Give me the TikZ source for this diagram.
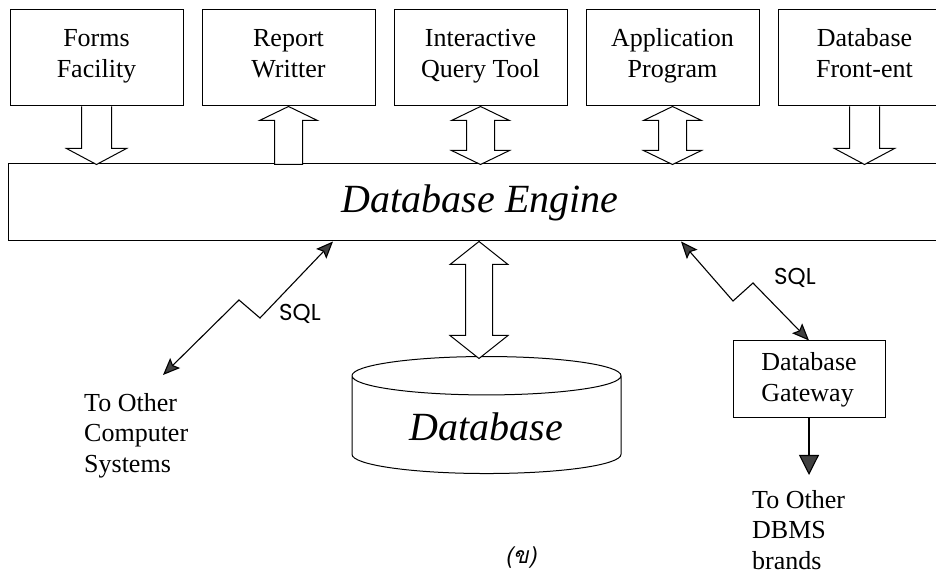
\documentclass[tikz,border=0pt]{standalone}
\usepackage{fontspec}
\setmainfont{Liberation Serif}
\newfontfamily\sqlfont{Poppins}
\newfontfamily\thaifont[Script=Thai, FakeSlant=0.2]{Loma}
\usepackage{tikz}
\usetikzlibrary{positioning, arrows.meta, shapes.geometric}
\tikzset{
  tool/.style={
    rectangle,
    draw,
    line width=1pt,
    minimum width=173pt,
    minimum height=96pt,
    text depth=10pt,
    font=\fontsize{26}{31}\selectfont,
    align=center
  },
  hollow/.style={draw, line width=1pt, fill=white, line join=miter},
  sqlarrow/.style={line width=1.1pt,
    {Stealth[length=17pt, width=14pt, inset=3pt, fill=black!75]}-{Stealth[length=17pt, width=14pt, inset=3pt, fill=black!75]}},
  sqltag/.style={font=\sqlfont\fontsize{23}{27}\selectfont},
  note/.style={font=\fontsize{26}{30.5}\selectfont, align=left, anchor=north west, inner sep=0pt}
}

\begin{document}
\begin{tikzpicture}[x=1pt, y=1pt, node distance=18pt]
        \useasboundingbox (0,0) rectangle (936,575);

        % The tools on top
        \node[tool] (forms)  at (96.5,517) {Forms\\Facility};
        \node[tool] (report) [right=of forms]  {Report\\Writter};
        \node[tool] (query)  [right=of report] {Interactive\\Query Tool};
        \node[tool] (app)    [right=of query]  {Application\\Program};
        \node[tool] (front)  [right=of app]    {Database\\Front-ent};

        % The engine bar
        \node[draw, line width=1pt, minimum width=944pt, minimum height=77pt,
              font=\fontsize{40}{48}\selectfont\itshape] (engine) at (480,372.5) {Database Engine};

        % Block arrows between tools and engine
        \draw[hollow] ([xshift=-15pt]forms.south) -- ++(0,-42) -- ++(-15,0) -- ++(30,-16)
                      -- ++(30,16) -- ++(-15,0) -- ++(0,42);
        \draw[hollow] (report.south) -- ++(29,-14) -- ++(-15,0) -- ++(0,-44) -- ++(-28,0)
                      -- ++(0,44) -- ++(-15,0) -- cycle;
        \draw[hollow] (query.south) -- ++(29,-14) -- ++(-15,0) -- ++(0,-30) -- ++(15,0)
                      -- ++(-29,-14) -- ++(-29,14) -- ++(15,0) -- ++(0,30) -- ++(-15,0) -- cycle;
        \draw[hollow] (app.south) -- ++(29,-14) -- ++(-15,0) -- ++(0,-30) -- ++(15,0)
                      -- ++(-29,-14) -- ++(-29,14) -- ++(15,0) -- ++(0,30) -- ++(-15,0) -- cycle;
        \draw[hollow] ([xshift=-15pt]front.south) -- ++(0,-42) -- ++(-15,0) -- ++(30,-16)
                      -- ++(30,16) -- ++(-15,0) -- ++(0,42);

        % The database
        \node[cylinder, draw, line width=1pt, shape border rotate=90, aspect=0.24,
              minimum width=269pt, minimum height=117pt,
              font=\fontsize{40}{48}\selectfont\itshape] (db) at (486.5,148) {Database};
        \draw[hollow] ([xshift=-1pt]engine.south) -- ++(29,-23) -- ++(-15.5,0) -- ++(0,-71)
                      -- ++(15.5,0) -- ++(-29,-23) -- ++(-29,23) -- ++(15.5,0) -- ++(0,71)
                      -- ++(-15.5,0) -- cycle;

        % SQL to other computer systems
        \coordinate (farsys) at (163,200);
        \draw[sqlarrow] ([xshift=-147pt]engine.south) -- (260,257) -- (239,275) -- (farsys);
        \node[sqltag] (sqlleft) at (300,261) {SQL};
        \node[note] (systems) at (84,182) {To Other\\Computer\\Systems};

        % SQL to the gateway
        \node[draw, line width=1pt, minimum width=152pt, minimum height=77pt, align=left,
              font=\fontsize{26}{31}\selectfont] (gateway) at (809,195.5) {Database\\Gateway};
        \draw[sqlarrow] ([xshift=201pt]engine.south) -- (733,274) -- (753,292) -- (gateway.north);
        \node[sqltag] (sqlright) at (795,297) {SQL};

        % Gateway to other brands
        \coordinate (brandend) at (809,100);
        \draw[line width=1.1pt, -{Triangle[length=20pt, width=20pt, fill=black!75]}] (gateway.south) -- (brandend);
        \node[note] (brands) at (752,85) {To Other\\DBMS\\brands};

        % caption
        \node[font=\thaifont\fontsize{23}{27}\selectfont] (caption) at (521,17) {(ข)};
\end{tikzpicture}
\end{document}
